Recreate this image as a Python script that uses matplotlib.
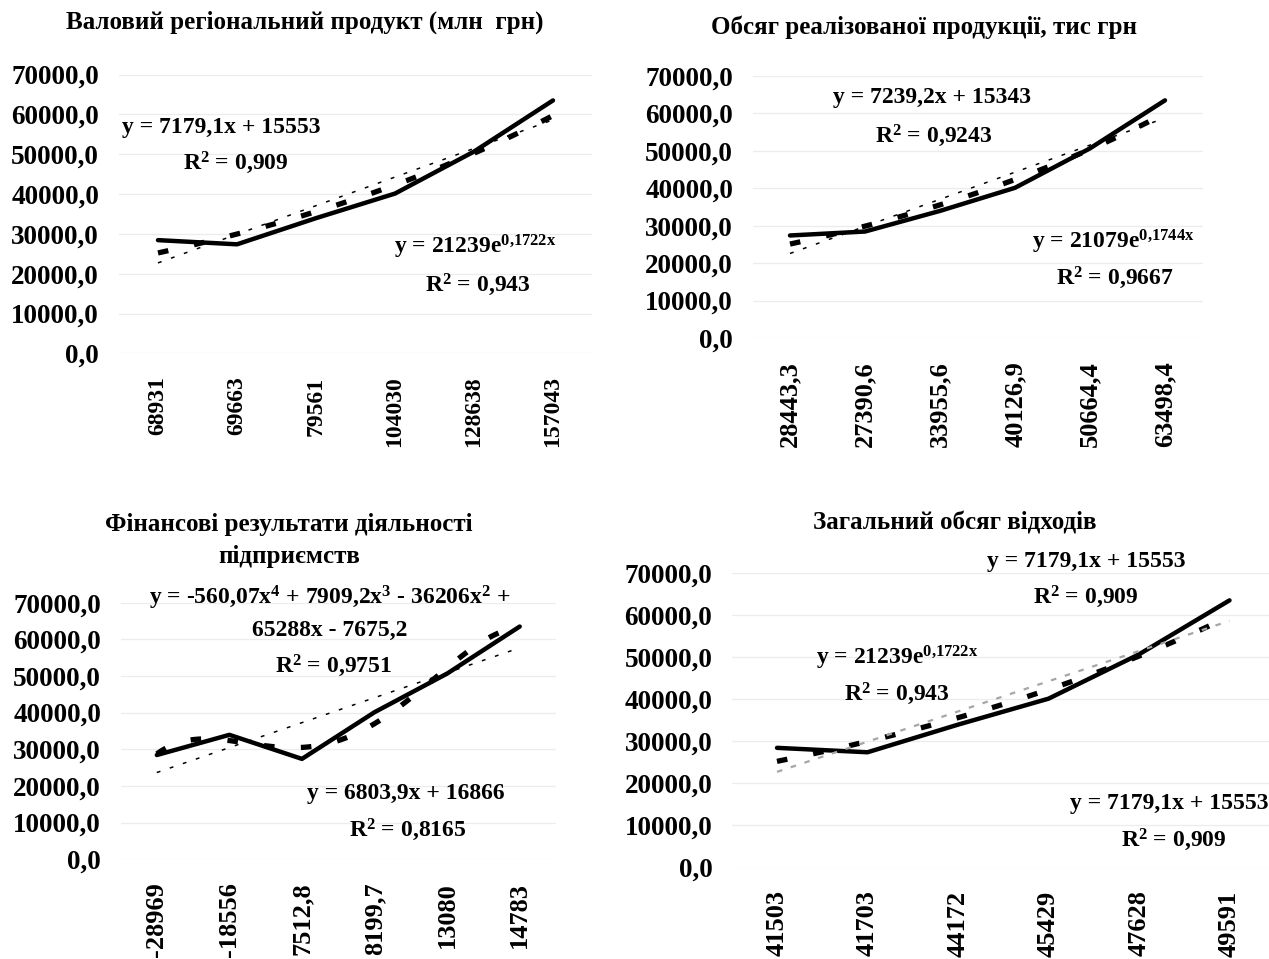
import matplotlib
matplotlib.use("Agg")
import matplotlib.pyplot as plt
import numpy as np

plt.rcParams['font.family'] = ['Liberation Serif', 'DejaVu Serif']
plt.rcParams['font.weight'] = 'bold'
plt.rcParams['mathtext.fontset'] = 'custom'
plt.rcParams['mathtext.rm'] = 'Liberation Serif:bold'
plt.rcParams['mathtext.bf'] = 'Liberation Serif:bold'
plt.rcParams['mathtext.it'] = 'Liberation Serif:bold'

# ---------------- data ----------------
grp_labels = ["68931", "69663", "79561", "104030", "128638", "157043"]
grp_values = [28443.3, 27390.6, 33955.6, 40126.9, 50664.4, 63498.4]

sales_labels = ["28443,3", "27390,6", "33955,6", "40126,9", "50664,4", "63498,4"]
sales_values = [27390.6, 28443.3, 33955.6, 40126.9, 50664.4, 63498.4]

fin_labels = ["-28969", "-18556", "7512,8", "8199,7", "13080", "14783"]
fin_values = [28443.3, 33955.6, 27390.6, 40126.9, 50664.4, 63498.4]

waste_labels = ["41503", "41703", "44172", "45429", "47628", "49591"]
waste_values = [28443.3, 27390.6, 33955.6, 40126.9, 50664.4, 63498.4]

y_ticks = [0, 10000, 20000, 30000, 40000, 50000, 60000, 70000]

W, H = 1269, 959
fig = plt.figure(figsize=(W / 100, H / 100), dpi=100)


def px_axes(x0, y0, x1, y1):
    return fig.add_axes([x0 / W, 1 - y1 / H, (x1 - x0) / W, (y1 - y0) / H])


def ftext(x, y, s, size=17, ha='center'):
    fig.text(x / W, 1 - y / H, s, ha=ha, va='center', fontsize=size,
             fontweight='bold', color='black')


def panel(box, labels, values, trend, lin_color='black', xsize=19):
    ax = px_axes(*box)
    pos = np.arange(len(values))
    xs = pos + 1.0
    vals = np.array(values)
    ax.plot(pos, vals, color='black', lw=3.2, solid_capstyle='round', zorder=3)

    fine = np.linspace(1, len(values), 200)
    if trend == 'exp':
        b, a = np.polyfit(xs, np.log(vals), 1)
        curve = np.exp(a) * np.exp(b * fine)
    else:
        curve = np.polyval(np.polyfit(xs, vals, 4), fine)
    ax.plot(fine - 1, curve, color='black', lw=3.8,
            linestyle=(0, (2.0, 5.0)), zorder=4)

    k, c = np.polyfit(xs, vals, 1)
    if lin_color == 'black':
        ax.plot(fine - 1, k * fine + c, color='black', lw=1.1,
                linestyle=(0, (2.5, 6.5)), zorder=5)
    else:
        ax.plot(fine - 1, k * fine + c, color=lin_color, lw=1.6,
                linestyle=(0, (2.5, 4.0)), zorder=5)

    ax.set_xlim(-0.5, len(values) - 0.5)
    ax.set_ylim(0, 70000)
    ax.set_yticks(y_ticks)
    ax.set_yticklabels([("%.1f" % t).replace('.', ',') for t in y_ticks],
                       fontsize=19.5, fontweight='bold')
    ax.set_xticks(pos)
    ax.set_xticklabels(labels, rotation=90, fontsize=xsize, fontweight='bold')
    ax.tick_params(axis='y', length=0, pad=14)
    ax.tick_params(axis='x', length=0, pad=16.5)
    ax.grid(axis='y', color='#ececec', lw=0.9)
    ax.set_axisbelow(True)
    for s in ax.spines.values():
        s.set_visible(False)
    return ax


# panel 1
panel((118.5, 74.5, 592.5, 353.5), grp_labels, grp_values, 'exp', xsize=17)
ftext(305, 22, "Валовий регіональний продукт (млн  грн)", size=18)
ftext(221, 128, "y = 7179,1x + 15553")
ftext(236, 163, r"R$^{\mathbf{2}}$ = 0,909")
ftext(475, 247, r"y = 21239e$^{\mathbf{0{,}1722x}}$")
ftext(478, 285, r"R$^{\mathbf{2}}$ = 0,943")

# panel 2
panel((752.5, 76, 1202.5, 338), sales_labels, sales_values, 'exp')
ftext(924, 27, "Обсяг реалізованої продукції, тис грн", size=18)
ftext(932, 98, "y = 7239,2x + 15343")
ftext(934, 136, r"R$^{\mathbf{2}}$ = 0,9243")
ftext(1113, 242, r"y = 21079e$^{\mathbf{0{,}1744x}}$")
ftext(1115, 278, r"R$^{\mathbf{2}}$ = 0,9667")

# panel 3
panel((120.5, 602.7, 556, 859.3), fin_labels, fin_values, 'poly')
ftext(289, 525, "Фінансові результати діяльності", size=18)
ftext(289, 557, "підприємств", size=18)
ftext(330, 598, r"y = -560,07x$^{\mathbf{4}}$ + 7909,2x$^{\mathbf{3}}$ - 36206x$^{\mathbf{2}}$ +")
ftext(330, 630, "65288x - 7675,2")
ftext(334, 666, r"R$^{\mathbf{2}}$ = 0,9751")
ftext(406, 793, "y = 6803,9x + 16866")
ftext(408, 830, r"R$^{\mathbf{2}}$ = 0,8165")

# panel 4
panel((731.75, 573, 1274.75, 867.5), waste_labels, waste_values, 'exp',
      lin_color='#a6a6a6')
ftext(955, 523, "Загальний обсяг відходів", size=18)
ftext(1086, 561, "y = 7179,1x + 15553")
ftext(1086, 597, r"R$^{\mathbf{2}}$ = 0,909")
ftext(897, 658, r"y = 21239e$^{\mathbf{0{,}1722x}}$")
ftext(897, 694, r"R$^{\mathbf{2}}$ = 0,943")
ftext(1070, 803, "y = 7179,1x + 15553", ha='left')
ftext(1174, 840, r"R$^{\mathbf{2}}$ = 0,909")

fig.savefig("out.png", dpi=100)
